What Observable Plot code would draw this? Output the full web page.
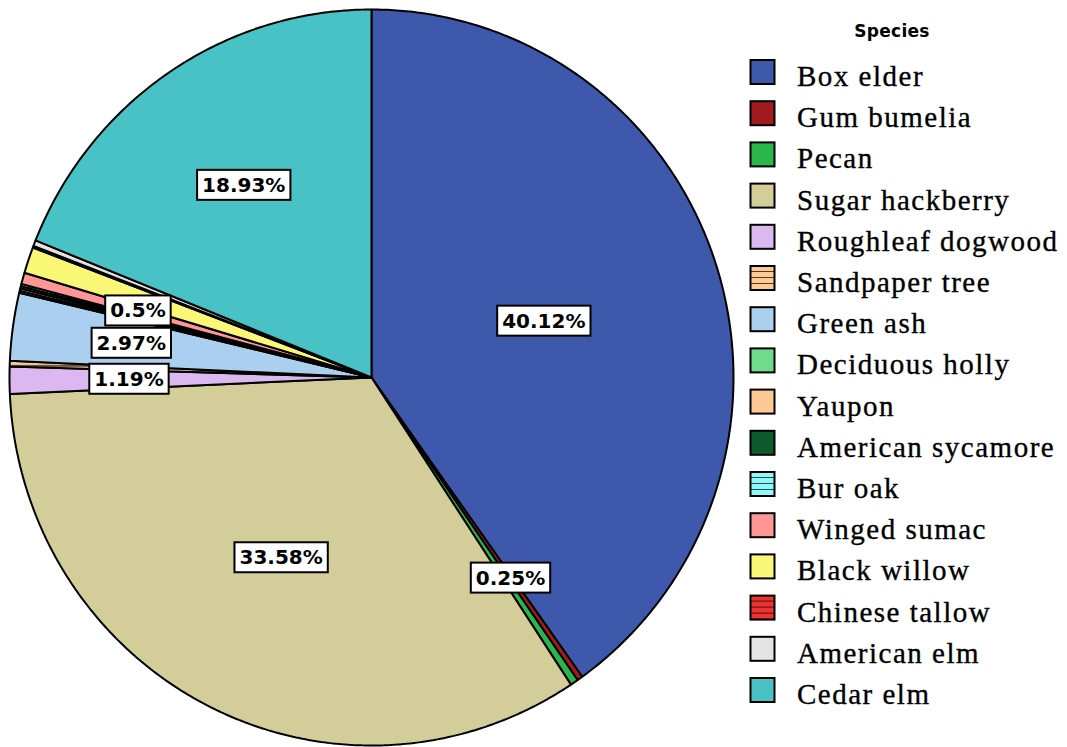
<!DOCTYPE html>
<html>
<head>
<meta charset="utf-8">
<script src="https://cdn.jsdelivr.net/npm/d3@7"></script>
<script src="https://cdn.jsdelivr.net/npm/@observablehq/plot@0.6"></script>
<style>
  body { margin: 0; background: #fff; }
  #wrap { position: relative; width: 1067px; height: 747px; overflow: hidden; }
  #wrap svg { position: absolute; left: 0; top: 0; }
</style>
</head>
<body>
<div id="wrap"></div>
<script>
// ---- data ----
const species = ["Box elder", "Gum bumelia", "Pecan", "Sugar hackberry", "Roughleaf dogwood",
  "Sandpaper tree", "Green ash", "Deciduous holly", "Yaupon", "American sycamore", "Bur oak",
  "Winged sumac", "Black willow", "Chinese tallow", "American elm", "Cedar elm"];
const shares = [40.12, 0.25, 0.35, 33.58, 1.19, 0.25, 2.97, 0.1, 0.1, 0.1, 0.1, 0.5, 1.15, 0.08, 0.25, 18.93];
const colors = ["#3e58ab", "#a11a1d", "#2bb64a", "#d3ce99", "#dbb8ef", "#ffc996", "#abcfee", "#6fdc8c",
  "#ffc996", "#0d5a2e", "#8ff8f8", "#ff9696", "#fbf776", "#ee3232", "#e3e3e3", "#48c2c5"];
const hatched = ["Sandpaper tree", "Bur oak", "Chinese tallow"];
const labelled = ["Box elder", "Gum bumelia", "Sugar hackberry", "Roughleaf dogwood", "Green ash", "Winged sumac", "Cedar elm"];
const labelRadius = [0.5, 0.667, 0.55, 0.67, 0.67, 0.67, 0.63];
const legendTitle = "Species";

// ---- derived geometry (from data) ----
const total = d3.sum(shares);
let cum = 0;
const slices = species.map((s, i) => {
  const a0 = cum / total * 2 * Math.PI;
  cum += shares[i];
  const a1 = cum / total * 2 * Math.PI;
  return {species: s, share: shares[i], a0, a1,
    fill: hatched.includes(s) ? `url(#hatch-${i})` : colors[i]};
});
const wedgePts = slices.flatMap(sl => {
  const n = Math.max(2, Math.ceil((sl.a1 - sl.a0) / (Math.PI / 360)));
  const pts = [{species: sl.species, fill: sl.fill, x: 0, y: 0}];
  for (let k = 0; k <= n; k++) {
    const a = sl.a0 + (sl.a1 - sl.a0) * k / n;
    pts.push({species: sl.species, fill: sl.fill, x: Math.sin(a), y: Math.cos(a)});
  }
  pts.push({species: sl.species, fill: sl.fill, x: 0, y: 0});
  return pts;
});
const labels = labelled.map((s, j) => {
  const sl = slices.find(d => d.species === s);
  const a = (sl.a0 + sl.a1) / 2;
  return {text: sl.share + "%", x: labelRadius[j] * Math.sin(a), y: labelRadius[j] * Math.cos(a)};
});

const chart = Plot.plot({
  width: 1067, height: 747, margin: 0,
  x: {domain: [-1, 1], range: [9, 733], axis: null},
  y: {domain: [-1, 1], range: [745, 9], axis: null},
  color: {type: "identity"},
  style: {background: "white", overflow: "visible"},
  marks: [
    Plot.line(wedgePts, {x: "x", y: "y", z: "species", fill: "fill", stroke: "black",
      strokeWidth: 2, strokeLinejoin: "miter", curve: "linear"}),
    Plot.text(labels, {x: "x", y: "y", text: "text", fontSize: 20, fontWeight: "bold",
      fontFamily: "DejaVu Sans", fill: "black"})
  ]
});
const wrap = document.getElementById("wrap");
wrap.appendChild(chart);

// hatch patterns
const defs = d3.select(chart).insert("defs", ":first-child");
slices.forEach((sl, i) => {
  if (!hatched.includes(sl.species)) return;
  const p = defs.append("pattern").attr("id", `hatch-${i}`).attr("patternUnits", "userSpaceOnUse")
    .attr("width", 8).attr("height", 6);
  p.append("rect").attr("width", 8).attr("height", 6).attr("fill", colors[i]);
  p.append("line").attr("x1", 0).attr("x2", 8).attr("y1", 5.5).attr("y2", 5.5)
    .attr("stroke", "black").attr("stroke-width", 1.3);
});

// white boxes behind labels
d3.select(chart).selectAll('g[aria-label="text"] text').each(function () {
  const b = this.getBBox();
  d3.select(this.parentNode).insert("rect", () => this)
    .attr("transform", this.getAttribute("transform"))
    .attr("x", b.x - 5).attr("y", b.y + b.height / 2 - 15)
    .attr("width", b.width + 10).attr("height", 30)
    .attr("fill", "white").attr("stroke", "black").attr("stroke-width", 2);
});

// legend
const leg = d3.select(wrap).append("svg").attr("width", 1067).attr("height", 747)
  .style("pointer-events", "none");
leg.append("text").attr("x", 892).attr("y", 37).attr("text-anchor", "middle")
  .attr("font-family", "DejaVu Sans").attr("font-weight", "bold").attr("font-size", 17)
  .attr("letter-spacing", 0.3).text(legendTitle);
species.forEach((s, i) => {
  const y0 = 60 + i * 41.2;
  leg.append("rect").attr("x", 750.5).attr("y", y0).attr("width", 24).attr("height", 24)
    .attr("fill", hatched.includes(s) ? `url(#leg-hatch-${i})` : colors[i])
    .attr("stroke", "black").attr("stroke-width", 2);
  if (hatched.includes(s)) {
    const p = leg.append("defs").append("pattern").attr("id", `leg-hatch-${i}`)
      .attr("patternUnits", "userSpaceOnUse").attr("x", 750.5).attr("y", y0)
      .attr("width", 24).attr("height", 6);
    p.append("rect").attr("width", 24).attr("height", 6).attr("fill", colors[i]);
    p.append("line").attr("x1", 0).attr("x2", 24).attr("y1", 6).attr("y2", 6)
      .attr("stroke", "black").attr("stroke-width", 1.4);
  }
  leg.append("text").attr("x", 797).attr("y", y0 + 26)
    .attr("font-family", "Liberation Serif").attr("font-size", 29).attr("letter-spacing", 1.5)
    .attr("fill", "#000").attr("stroke", "#000").attr("stroke-width", 0.35).text(s);
});
</script>
</body>
</html>
